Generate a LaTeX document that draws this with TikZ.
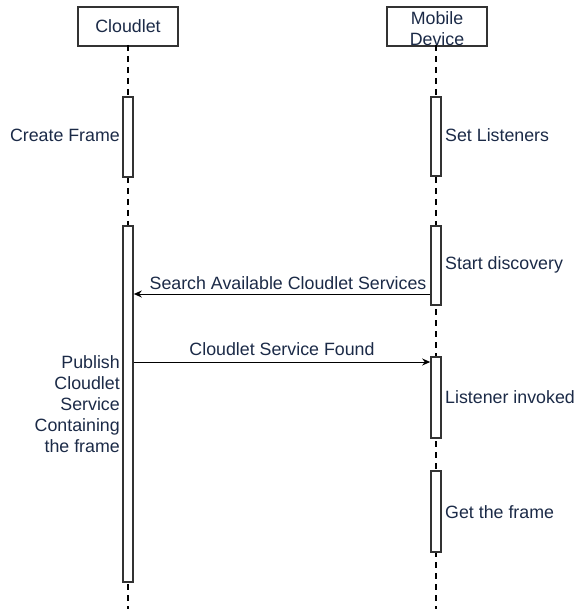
\documentclass[tikz,border=0pt]{standalone}
\usepackage{fontspec}
\setmainfont{Liberation Sans}
\usetikzlibrary{arrows.meta}
\definecolor{ink}{HTML}{1B2A47}
\definecolor{edge}{HTML}{333333}
\begin{document}
\begin{tikzpicture}[x=1pt,y=-1pt,
  every node/.style={font=\fontsize{17.8}{21}\selectfont, text=ink, inner sep=0pt},
  header/.style={draw=edge, line width=2pt, fill=white, minimum width=100pt, minimum height=39pt, anchor=north},
  lifeline/.style={draw=black, line width=2pt, dash pattern=on 6pt off 5pt},
  actbox/.style={draw=edge, line width=1.6pt, fill=white, minimum width=10pt, anchor=north},
  msg/.style={draw=black, line width=1pt, -{Stealth[length=8pt,width=7pt]}},
  lbl/.style={align=center}
]
\useasboundingbox (0,0) rectangle (575,609);

% participants
\node[header] (cl) at (128,6) {};
\node at (128,26) (cltext) {Cloudlet};
\node[header] (md) at (437,6) {};
\node[align=center] at (437,29) (mdtext) {Mobile\\Device};

% lifelines
\coordinate (clend) at (128,609);
\coordinate (mdend) at (436,609);
\draw[lifeline] (128,45) -- (clend);
\draw[lifeline] (436,45) -- (mdend);

% activation bars
\node[actbox, minimum height=80pt] (c1) at (128,96) {};
\node[actbox, minimum height=356pt] (c2) at (128,225) {};
\node[actbox, minimum height=79pt] (m1) at (436,96) {};
\node[actbox, minimum height=79pt] (m2) at (436,225) {};
\node[actbox, minimum height=81pt] (m3) at (436,356) {};
\node[actbox, minimum height=81pt] (m4) at (436,470) {};

% messages
\coordinate (s1) at (436,294);
\coordinate (s2) at (128,362);
\draw[msg] (m2.west |- s1) -- (c2.east |- s1);
\node (slbl) at (288,283) {Search Available Cloudlet Services};
\draw[msg] (c2.east |- s2) -- (m3.west |- s2);
\node (flbl) at (282,349) {Cloudlet Service Found};

% activity notes
\node[anchor=east] (n1) at (120,135) {Create Frame};
\node[anchor=west] (n2) at (445,135) {Set Listeners};
\node[anchor=west] (n3) at (445,265) {Start discovery};
\node[anchor=west] (n4) at (445,397) {Listener invoked};
\node[anchor=west] (n5) at (445,512) {Get the frame};
\node[anchor=east, align=right] (n6) at (120,404) {Publish\\Cloudlet\\Service\\Containing\\the frame};
\end{tikzpicture}
\end{document}
